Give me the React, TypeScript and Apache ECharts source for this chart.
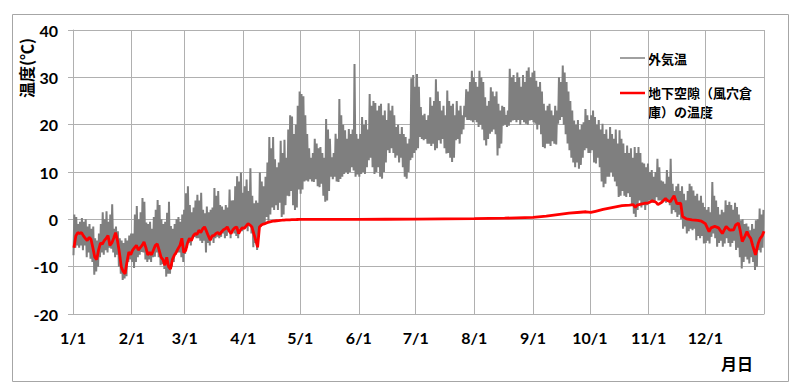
import React, { useEffect, useRef } from 'react';
import * as echarts from 'echarts';

// Day-of-year positions of month starts and their labels
const monthStarts = [0, 31, 59, 90, 120, 151, 181, 212, 243, 273, 304, 334];
const monthLabels = ['1/1', '2/1', '3/1', '4/1', '5/1', '6/1', '7/1', '8/1', '9/1', '10/1', '11/1', '12/1'];
const yTicks = [-20, -10, 0, 10, 20, 30, 40];

// Outdoor air temperature: daily highs (day 0 = Jan 1)
const outdoorHigh = [
  // Jan
  1, 0.5, -1, -0.5, 0.3, -0.5, 0, -1.5, -1, -2, -1.5, -4, -4.5, -3, -1, 1.5, 0, 1.7, -0.5, 1, 3.2, -2, -1.5, -2.5, -4, -4.5, -5, -4, -4.5, -3.4, -3,
  // Feb
  -3, 1, 2.8, 0, 1.5, 4.5, 3.7, -0.7, -1, -0.5, -2, 0.5, 2, 4.1, 3, 0, -1, -0.5, 1.4, 3.7, -1.4, -2, -1, 0, 0.5, -0.5, 1, 2,
  // Mar
  5.5, 7, 3, 1.5, 2.5, 4, 5.2, 4, 5.6, 2, 1.3, 2.7, 1.5, 2, 2.5, 6.6, 5, 6, 3, 2.7, 2, 3, 2.5, 6.3, 4, 4, 7, 9.1, 8, 9.9, 5.6,
  // Apr
  7, 8.4, 6, 10.8, 5, 3.4, 4, 3.5, 9.9, 8, 7, 9, 12, 17.4, 15, 17.4, 12.7, 11, 12, 16.6, 14, 16.8, 13, 19, 22, 21.7, 18, 20, 24, 27,
  // May
  26.5, 26, 22, 18, 15, 13, 14, 17, 16, 15, 15.3, 14, 13, 21.2, 19, 17, 13.1, 14, 18.1, 17, 25.4, 22, 20, 18.8, 17, 19.1, 18, 19, 32.8, 18, 17,
  // Jun
  18, 21.6, 20, 21, 19, 26.5, 24, 25, 24.6, 23, 24, 24.4, 22, 23, 21, 24.5, 23, 24, 22, 19.5, 20, 18, 19.5, 18, 17.4, 16, 17, 29.8, 30.5, 28,
  // Jul
  30.7, 28, 23.7, 22, 22.3, 21, 22, 25.8, 24, 25, 29.6, 27, 25, 23, 24, 22, 27.2, 25, 24, 24.4, 22, 25, 23, 24, 22, 24, 27.5, 27, 29, 31.4, 30,
  // Aug
  29, 28, 31.4, 30, 29, 25.8, 24, 25, 27.9, 27, 26, 27, 24.4, 23, 24, 23.7, 22, 23, 31.8, 30, 30.5, 29, 31, 30, 28, 30.5, 29, 31.4, 32.1, 30, 31,
  // Sep
  31.4, 29.3, 28, 29, 27, 24.4, 23, 24, 24.4, 23, 22, 24, 23, 30, 29, 32.5, 31, 29, 27, 25, 23, 20.9, 20, 21, 19, 20, 20.5, 23.3, 22, 21,
  // Oct
  22, 23, 21.6, 20, 21, 19, 20.2, 18, 19, 17, 19.5, 18, 17, 19, 16, 18.8, 17, 16, 14, 15.6, 14, 15, 13, 15.3, 14, 15.3, 14, 12, 11.8, 11, 11.8,
  // Nov
  10, 10.4, 9, 10, 12.8, 11, 8.2, 8, 7.5, 10.4, 9, 12.8, 7.5, 6, 7, 7.5, 6, 7, 5.4, 4, 6, 7.5, 7, 6.1, 5, 5.4, 4, 5, 3.5, 2.6,
  // Dec
  2, 2.6, 1.5, 7.9, 5, 4, 2.6, 1, 2, 1.5, 4, 3, 3.7, 3, 2, 3.5, 2.6, 1, -0.2, 0, -1, -0.9, -1.5, -2.3, -1, -2, -0.2, 0, 2.3, 1, 2,
];

// Outdoor air temperature: daily lows
const outdoorLow = [
  // Jan
  -7.6, -6, -5.5, -6, -5.5, -6.5, -5.5, -8, -7, -8.3, -9, -11.7, -11, -10, -8, -7, -7.5, -6.5, -7, -6, -6.2, -7, -8, -7.5, -10, -11.5, -12.8, -12.5, -12, -9, -8.5,
  // Feb
  -9, -10.3, -9, -8, -7.5, -6.9, -7, -8.5, -9, -8.5, -9, -8, -7.9, -7, -8, -9.7, -9.5, -10.5, -12.1, -11.5, -11.5, -10, -9, -7.5, -7, -7, -8, -9,
  // Mar
  -7.3, -6, -5, -5.5, -4, -3.7, -4, -4, -4.5, -5, -4.5, -7, -5, -5.5, -4, -5, -4, -3.7, -4, -3.7, -3, -4, -3.5, -2.5, -4, -2.5, -3, -3.5, -4, -2, -2.5,
  // Apr
  -2, -1.5, -2.5, -1, -3, -5.9, -5, -6.5, -2, -1.5, -1.2, -1, 0.5, -0.3, 1, 2.5, 2, 3, 2, 3.5, 0.5, 1, 3, 5, 4.9, 6, 3, 2, 2.5, 6.3,
  // May
  5.4, 6.3, 8, 8.2, 8, 8.5, 8, 7.9, 8.5, 7, 6.8, 7.5, 5, 3.7, 4, 6, 9, 8.5, 9, 8, 7.9, 8.5, 9, 9.6, 10, 9.6, 10, 11, 10.3, 9, 9.5,
  // Jun
  9, 9.6, 10, 9.6, 11, 12.5, 13, 11, 9.6, 10, 11, 9, 8.6, 10, 12, 14.6, 14, 15, 14, 13, 13.5, 12, 13, 11, 9, 8.6, 10, 12.5, 13, 14,
  // Jul
  14.6, 15, 17.4, 17, 16.7, 17, 16, 16, 15.5, 16, 14.6, 15, 16.7, 16, 17, 15, 13.9, 14, 13, 12.1, 13, 16.7, 17, 16, 18, 19, 21.6, 21, 21, 20.9, 20.5,
  // Aug
  21, 20.5, 19.5, 20, 19, 16.7, 15.6, 17, 18.1, 18.5, 19, 18, 13.5, 15, 16, 19.8, 20, 19.5, 19.8, 20.5, 20.9, 21, 20.5, 21, 20, 21, 20.5, 20.2, 20, 20.9, 21,
  // Sep
  20.5, 20.2, 19, 20, 18, 15.3, 15, 16, 16, 15.5, 16.5, 16, 15.8, 20.2, 21, 21.6, 20, 18, 16, 14.6, 13, 12, 11, 12, 10.7, 11.5, 13, 14.6, 15, 14,
  // Oct
  14, 14.6, 12, 11.8, 13, 11, 8, 6.8, 7.5, 9, 9, 10, 9, 8, 7, 4.7, 5, 6, 5, 4.7, 5.5, 4.7, 3, 1.2, 0.5, 2, 4, 2.5, 3, 2, 3,
  // Nov
  4, 4, 3.5, 3.5, 4.7, 4, 4, 3.5, 4, 3.5, 4, 3, 1.2, 2, 1.5, 0.5, 1, 0, -2, -1.5, -3, -2.5, -2, -2.3, -2, -4.4, -3.5, -4, -3.5, -5.1,
  // Dec
  -5, -4.5, -5.1, -3.7, -3, -4, -5.8, -5, -4.5, -5.8, -5.1, -4, -5, -5.8, -5, -4.5, -6.5, -6, -8, -10.4, -9, -7.9, -8.5, -9.3, -8, -9, -10.7, -10, -6.5, -7, -6,
];

// Underground cavity (wind-cave storehouse) temperature, daily, Jan 1 – Apr 29
const cellarEarly = [
  -6, -3.5, -2.8, -3, -2.8, -3.5, -4, -4.5, -3.8, -4.2, -6, -8, -8.5, -6.5, -5, -5.2, -4.5, -4, -3.4, -5.5, -5, -4, -2.8, -4.5, -7, -10, -11, -11.5, -9, -6.9, -7.5,
  -6.5, -6, -5.5, -6.5, -6, -5.5, -4.8, -6, -7.5, -7, -7.5, -6.5, -5.5, -5.2, -6.5, -8, -8.5, -9.7, -8, -10, -10.5, -8.5, -7.6, -7, -6.2, -5.5, -4, -7,
  -6.6, -5, -4, -4.5, -3.5, -3, -3.2, -2.3, -2.8, -2, -1.6, -2.5, -3.5, -4.4, -3.5, -3.4, -3, -2.8, -3.2, -2.6, -2.2, -2, -1.6, -2.5, -3, -2.2, -1.8, -1.6, -3, -2.2, -1.8,
  -1.9, -1.4, -0.9, -1.2, -1.6, -3, -4.4, -5.9, -1.6, -1.2, -1, -0.9, -0.7, -0.6, -0.5, -0.4, -0.35, -0.3, -0.25, -0.2, -0.18, -0.15, -0.12, -0.1, -0.1, -0.08, -0.06, -0.05, -0.04, -0.03,
];

// Underground cavity temperature after Apr 30: [day of year, °C]
const cellarLate = [
  [120, -0.02], [135, 0], [150, 0], [165, 0.02], [181, 0.05], [196, 0.1], [212, 0.15], [228, 0.25], [243, 0.4],
  [250, 0.7], [258, 1.1], [262, 1.3], [268, 1.5], [271, 1.6], [273.5, 1.45], [276, 1.7], [280, 2.1], [286, 2.6],
  [290, 2.9], [294, 3.0], [296, 3.1], [297, 2.5], [298, 3.0], [300, 3.2], [302, 3.4], [304, 3.5], [306, 3.9],
  [308, 3.6], [309, 3.1], [311, 3.6], [313, 4.4], [314, 4.0], [315.5, 3.7], [317.5, 5.0], [319, 3.3], [321, 3.4],
  [322, 0.6], [324, 0.1], [327, -0.1], [330, -0.2], [332, -0.4], [334, -0.9], [336, -2.6], [337, -1.8], [339, -1.5],
  [341, -1.8], [343, -3.0], [345, -1.5], [347, -2.3], [349, -2.2], [350, -1.2], [351.5, -0.8], [352.5, -2.5],
  [353.5, -4.7], [355, -3.5], [356, -2.6], [357, -3.5], [358, -4.0], [359, -5.5], [360.5, -7.5], [362, -5.0],
  [363, -4.0], [364, -3.5], [365, -2.5],
];

const seriesNames = ['外気温', '地下空隙（風穴倉庫）の温度'];
const legendRedLines = ['地下空隙（風穴倉', '庫）の温度'];

const GRID = '#b0b0b0';
const LABEL_FONT = 'Lato, "Noto Sans", sans-serif';
const CJK_FONT = '"Noto Sans CJK JP", "Noto Sans", sans-serif';

export default function App() {
  const ref = useRef<HTMLDivElement>(null);

  useEffect(() => {
    if (!ref.current) return;
    const chart = echarts.init(ref.current, null, { renderer: 'svg' });

    const outdoor: number[][] = [];
    for (let d = 0; d < outdoorHigh.length; d++) {
      outdoor.push([d + 0.25, outdoorLow[d]]);
      outdoor.push([d + 0.7, outdoorHigh[d]]);
    }
    const cellar: number[][] = cellarEarly.map((v, i) => [i + 0.5, v]).concat(cellarLate);

    const legendText = (text: string, x: number, y: number) => ({
      type: 'text',
      x,
      y,
      style: {
        text,
        fill: '#000',
        font: `bold 13px ${CJK_FONT}`,
        align: 'left',
        verticalAlign: 'middle',
      },
    });

    chart.setOption({
      animation: false,
      backgroundColor: '#ffffff',
      grid: { left: 73, right: 36, top: 30, bottom: 76, containLabel: false },
      xAxis: {
        type: 'value',
        min: 0,
        max: 365,
        axisLine: { show: true, onZero: false, lineStyle: { color: GRID, width: 1 } },
        axisTick: { show: false, customValues: monthStarts.concat([365]) },
        axisLabel: {
          customValues: monthStarts,
          formatter: (v: number) => monthLabels[monthStarts.indexOf(Math.round(v))] ?? '',
          margin: 15,
          color: '#000',
          fontFamily: LABEL_FONT,
          fontWeight: 'bold',
          fontSize: 16,
        },
        splitLine: { show: true, lineStyle: { color: GRID, width: 1 } },
      },
      yAxis: {
        type: 'value',
        min: yTicks[0],
        max: yTicks[yTicks.length - 1],
        interval: 10,
        axisLine: { show: true, lineStyle: { color: GRID, width: 1 } },
        axisTick: { show: true, length: 5, lineStyle: { color: GRID, width: 1 } },
        axisLabel: {
          margin: 15,
          color: '#000',
          fontFamily: LABEL_FONT,
          fontWeight: 'bold',
          fontSize: 16,
        },
        splitLine: { show: true, lineStyle: { color: GRID, width: 1 } },
      },
      series: [
        {
          name: seriesNames[0],
          type: 'line',
          data: outdoor,
          showSymbol: false,
          symbol: 'none',
          lineStyle: { color: '#7f7f7f', width: 2 },
          itemStyle: { color: '#7f7f7f' },
          z: 2,
        },
        {
          name: seriesNames[1],
          type: 'line',
          data: cellar,
          showSymbol: false,
          symbol: 'none',
          lineStyle: { color: '#ff0000', width: 2.8 },
          itemStyle: { color: '#ff0000' },
          z: 3,
        },
      ],
      graphic: [
        {
          type: 'rect',
          shape: { x: 12.5, y: 14.5, width: 776, height: 367 },
          style: { fill: 'none', stroke: '#a6a6a6', lineWidth: 1 },
          silent: true,
        },
        {
          type: 'text',
          x: 26,
          y: 68,
          rotation: Math.PI / 2,
          style: {
            text: '温度(℃)',
            fill: '#000',
            font: `bold 16px ${CJK_FONT}`,
            align: 'center',
            verticalAlign: 'middle',
          },
        },
        {
          type: 'text',
          x: 737,
          y: 363,
          style: {
            text: '月日',
            fill: '#000',
            font: `bold 16px ${CJK_FONT}`,
            align: 'center',
            verticalAlign: 'middle',
          },
        },
        {
          type: 'line',
          shape: { x1: 620, y1: 58, x2: 645, y2: 58 },
          style: { stroke: '#808080', lineWidth: 1.5 },
        },
        legendText(seriesNames[0], 648, 58),
        {
          type: 'line',
          shape: { x1: 620, y1: 93, x2: 645, y2: 93 },
          style: { stroke: '#ff0000', lineWidth: 2.5 },
        },
        legendText(legendRedLines[0], 648, 92.5),
        legendText(legendRedLines[1], 648, 111.5),
      ],
    });

    return () => chart.dispose();
  }, []);

  return (
    <div
      ref={ref}
      style={{ position: 'fixed', left: 0, top: 0, width: 800, height: 390, background: '#fff' }}
    />
  );
}
